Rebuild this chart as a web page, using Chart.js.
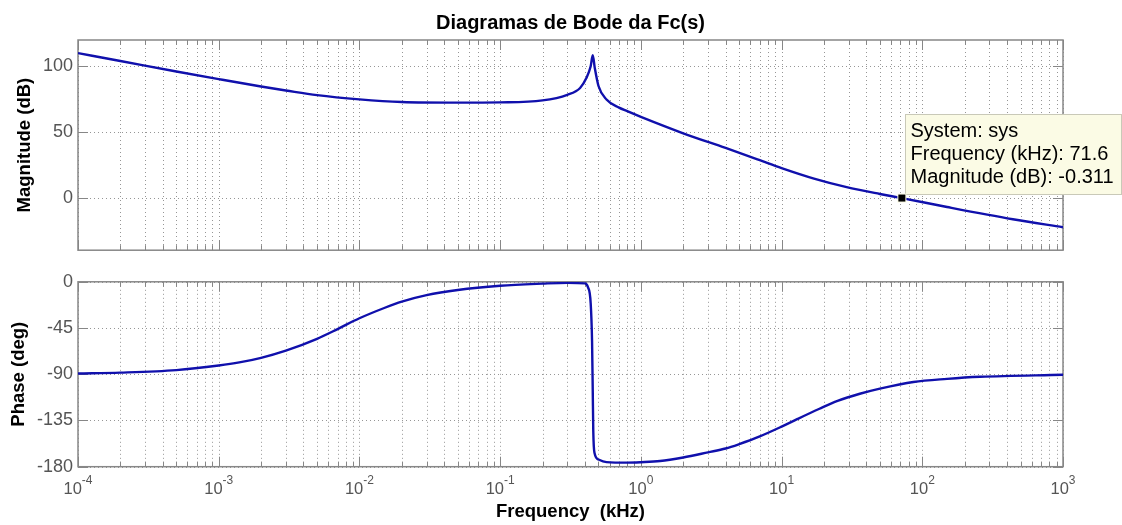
<!DOCTYPE html>
<html>
<head>
<meta charset="utf-8">
<title>Diagramas de Bode da Fc(s)</title>
<script src="https://cdn.jsdelivr.net/npm/chart.js@4.4.1/dist/chart.umd.min.js"></script>
<style>
  html, body { margin: 0; padding: 0; background: #fff; }
  #wrap { position: relative; width: 1122px; height: 525px; overflow: hidden; }
  #mag { position: absolute; left: 0; top: 0; }
  #phase { position: absolute; left: 0; top: 266px; }
</style>
</head>
<body>
<div id="wrap">
  <canvas id="mag" width="1122" height="266"></canvas>
  <canvas id="phase" width="1122" height="259"></canvas>
</div>
<script>
// ─── Data (frequency in kHz) ───
const freqMag = [1e-4, 2e-4, 5e-4, 1e-3, 2e-3, 3e-3, 5e-3, 1e-2, 2e-2, 5e-2, 0.1, 0.2, 0.3, 0.37, 0.41, 0.44, 0.455, 0.47, 0.5, 0.57, 0.7, 0.8, 1, 2, 4, 7, 10, 17, 29, 50, 71.6, 150, 440, 1000];
const magDb   = [110, 104, 96, 90.2, 84.6, 81.6, 78, 74.8, 72.8, 72.3, 72.5, 74, 78.3, 83.5, 91, 100, 108.4, 99, 85, 74.7, 68.5, 65.8, 61.5, 49, 37.8, 28.5, 22.5, 14.5, 8, 2.8, -0.311, -7.1, -16.4, -22.5];

const freqPhase = [1e-4, 2e-4, 5e-4, 1e-3, 1.4e-3, 2e-3, 3e-3, 5e-3, 7e-3, 1e-2, 1.5e-2, 2e-2, 3e-2, 5e-2, 0.1, 0.2, 0.3, 0.4, 0.42, 0.44, 0.45, 0.455, 0.459, 0.469, 0.5, 0.57, 0.8, 1, 1.37, 2, 3, 4, 5, 7, 10, 13, 18.6, 25, 36, 50, 86.5, 150, 258, 1000];
const phaseDeg  = [-89.2, -88.4, -86, -81.5, -78.5, -74, -67, -55.5, -46, -35.5, -25.5, -19.3, -13, -8, -3.9, -1.8, -1, -1.5, -5, -21, -58, -105, -145, -167, -173, -175.5, -176, -175.6, -174.5, -171, -166, -162.3, -158, -150.5, -141, -133.5, -123.6, -116, -109, -104, -97.5, -94.5, -92.5, -90.5];

const xPowers     = [-4, -3, -2, -1, 0, 1, 2, 3];
const magTicks    = [0, 50, 100];
const phaseTicks  = [-180, -135, -90, -45, 0];
const tipFreq     = 71.6;
const tipMag      = -0.311;
const tipLines    = ['System: sys', 'Frequency (kHz): 71.6', 'Magnitude (dB): -0.311'];

// ─── Styling ───
const FONT      = '"Liberation Sans", Arial, sans-serif';
const LINE_BLUE = '#1010ac';
const BOX_GRAY  = '#878787';
const GRID_GRAY = '#969696';
const TICK_TEXT = '#555';

// decade + minor grid positions (1..9 x 10^p)
const xGrid = [];
xPowers.forEach(p => {
  for (let m = 1; m <= 9; m++) {
    if (p === xPowers[xPowers.length - 1] && m > 1) break;
    xGrid.push(m * Math.pow(10, p));
  }
});

// ─── MATLAB-like axes box, dotted grid, inward ticks ───
const matlabAxes = {
  id: 'matlabAxes',
  beforeDatasetsDraw(chart) {
    const { ctx, chartArea: a, scales: { x, y } } = chart;
    ctx.save();
    ctx.strokeStyle = GRID_GRAY;
    ctx.lineWidth = 1;
    ctx.setLineDash([1, 3]);
    x.ticks.forEach(t => {
      const px = Math.round(x.getPixelForValue(t.value)) + 0.5;
      ctx.beginPath(); ctx.moveTo(px, a.top); ctx.lineTo(px, a.bottom); ctx.stroke();
    });
    y.ticks.forEach(t => {
      const py = Math.round(y.getPixelForValue(t.value)) + 0.5;
      ctx.beginPath(); ctx.moveTo(a.left, py); ctx.lineTo(a.right, py); ctx.stroke();
    });
    ctx.setLineDash([]);
    ctx.strokeStyle = BOX_GRAY;
    ctx.lineWidth = 1;
    x.ticks.forEach(t => {
      const px = Math.round(x.getPixelForValue(t.value)) + 0.5;
      const major = Math.abs(Math.log10(t.value) - Math.round(Math.log10(t.value))) < 1e-6;
      const len = major ? 10 : 5;
      ctx.beginPath();
      ctx.moveTo(px, a.top); ctx.lineTo(px, a.top + len);
      ctx.moveTo(px, a.bottom); ctx.lineTo(px, a.bottom - len);
      ctx.stroke();
    });
    y.ticks.forEach(t => {
      const py = Math.round(y.getPixelForValue(t.value)) + 0.5;
      ctx.beginPath();
      ctx.moveTo(a.left, py); ctx.lineTo(a.left + 10, py);
      ctx.moveTo(a.right, py); ctx.lineTo(a.right - 10, py);
      ctx.stroke();
    });
    ctx.lineWidth = 1.5;
    ctx.strokeRect(a.left, a.top, a.right - a.left, a.bottom - a.top);
    ctx.restore();
  }
};

// ─── 10^n labels with superscript ───
const powerLabels = {
  id: 'powerLabels',
  afterDraw(chart) {
    const { ctx, chartArea: a, scales: { x } } = chart;
    ctx.save();
    ctx.fillStyle = TICK_TEXT;
    ctx.textBaseline = 'middle';
    ctx.textAlign = 'left';
    xPowers.forEach(p => {
      const px = x.getPixelForValue(Math.pow(10, p));
      const base = '10', exp = String(p);
      ctx.font = '16.5px ' + FONT;
      const wb = ctx.measureText(base).width;
      ctx.font = '12px ' + FONT;
      const we = ctx.measureText(exp).width;
      const x0 = px - (wb + we) / 2;
      ctx.font = '16.5px ' + FONT;
      ctx.fillText(base, x0, a.bottom + 22.5);
      ctx.font = '12px ' + FONT;
      ctx.fillText(exp, x0 + wb, a.bottom + 14);
    });
    ctx.restore();
  }
};

// ─── Data tip at the crossover point ───
const dataTip = {
  id: 'dataTip',
  afterDraw(chart) {
    const { ctx, scales: { x, y } } = chart;
    const mx = x.getPixelForValue(tipFreq);
    const my = y.getPixelForValue(tipMag);
    ctx.save();
    const bx = Math.round(mx + 3) + 0.5, by = Math.round(my - 84) + 0.5;
    ctx.fillStyle = '#fbfbe5';
    ctx.strokeStyle = '#c9c9b8';
    ctx.lineWidth = 1;
    ctx.fillRect(bx, by, 216, 80);
    ctx.strokeRect(bx, by, 216, 80);
    ctx.fillStyle = '#000';
    ctx.font = '20px ' + FONT;
    ctx.textBaseline = 'alphabetic';
    ctx.textAlign = 'left';
    tipLines.forEach((s, i) => ctx.fillText(s, bx + 5, by + 22 + i * 23.3));
    ctx.fillStyle = '#fbfbe5';
    ctx.fillRect(mx - 4.5, my - 4.5, 9, 9);
    ctx.fillStyle = '#000';
    ctx.fillRect(mx - 3.5, my - 3.5, 7, 7);
    ctx.restore();
  }
};

function yAxis(title, ticks, min, max, titlePad) {
  return {
    type: 'linear', min, max,
    afterBuildTicks: s => { s.ticks = ticks.map(v => ({ value: v })); },
    afterFit: s => { s.width = 78; },
    grid: { display: false, drawTicks: false },
    border: { display: false },
    ticks: { color: TICK_TEXT, padding: 5, font: { family: FONT, size: 18 } },
    title: { display: true, text: title, color: '#000', padding: { top: titlePad },
             font: { family: FONT, size: 18.5, weight: 'bold' } }
  };
}

function xAxis(showTitle) {
  return {
    type: 'logarithmic', min: 1e-4, max: 1e3,
    display: showTitle,
    afterBuildTicks: s => { s.ticks = xGrid.map(v => ({ value: v })); },
    afterFit: s => { s.height = showTitle ? 58.3 : 0; },
    grid: { display: false, drawTicks: false },
    border: { display: false },
    ticks: { display: false },
    title: { display: showTitle, text: 'Frequency  (kHz)', color: '#000', padding: { bottom: 2.2 },
             font: { family: FONT, size: 18.5, weight: 'bold' } }
  };
}

function lineSet(fs, vs) {
  return {
    data: fs.map((f, i) => ({ x: f, y: vs[i] })),
    borderColor: LINE_BLUE, borderWidth: 2.4, pointRadius: 0,
    cubicInterpolationMode: 'monotone', fill: false
  };
}

new Chart(document.getElementById('mag'), {
  type: 'line',
  data: { datasets: [lineSet(freqMag, magDb)] },
  options: {
    responsive: false, animation: false,
    layout: { padding: { top: 0, right: 59, bottom: 4, left: 0 } },
    plugins: {
      legend: { display: false }, tooltip: { enabled: false },
      title: { display: true, fullSize: false, text: 'Diagramas de Bode da Fc(s)', color: '#000',
               padding: { top: 11, bottom: 5 }, font: { family: FONT, size: 20, weight: 'bold' } }
    },
    scales: { x: xAxis(false), y: yAxis('Magnitude (dB)', magTicks, -40, 120, 14) }
  },
  plugins: [matlabAxes, dataTip]
});

new Chart(document.getElementById('phase'), {
  type: 'line',
  data: { datasets: [lineSet(freqPhase, phaseDeg)] },
  options: {
    responsive: false, animation: false,
    layout: { padding: { top: 8.3, right: 59, bottom: 0, left: 0 } },
    plugins: { legend: { display: false }, tooltip: { enabled: false } },
    scales: { x: xAxis(true), y: yAxis('Phase (deg)', phaseTicks, -180, 0, 7.5) }
  },
  plugins: [matlabAxes, powerLabels]
});
</script>
</body>
</html>
